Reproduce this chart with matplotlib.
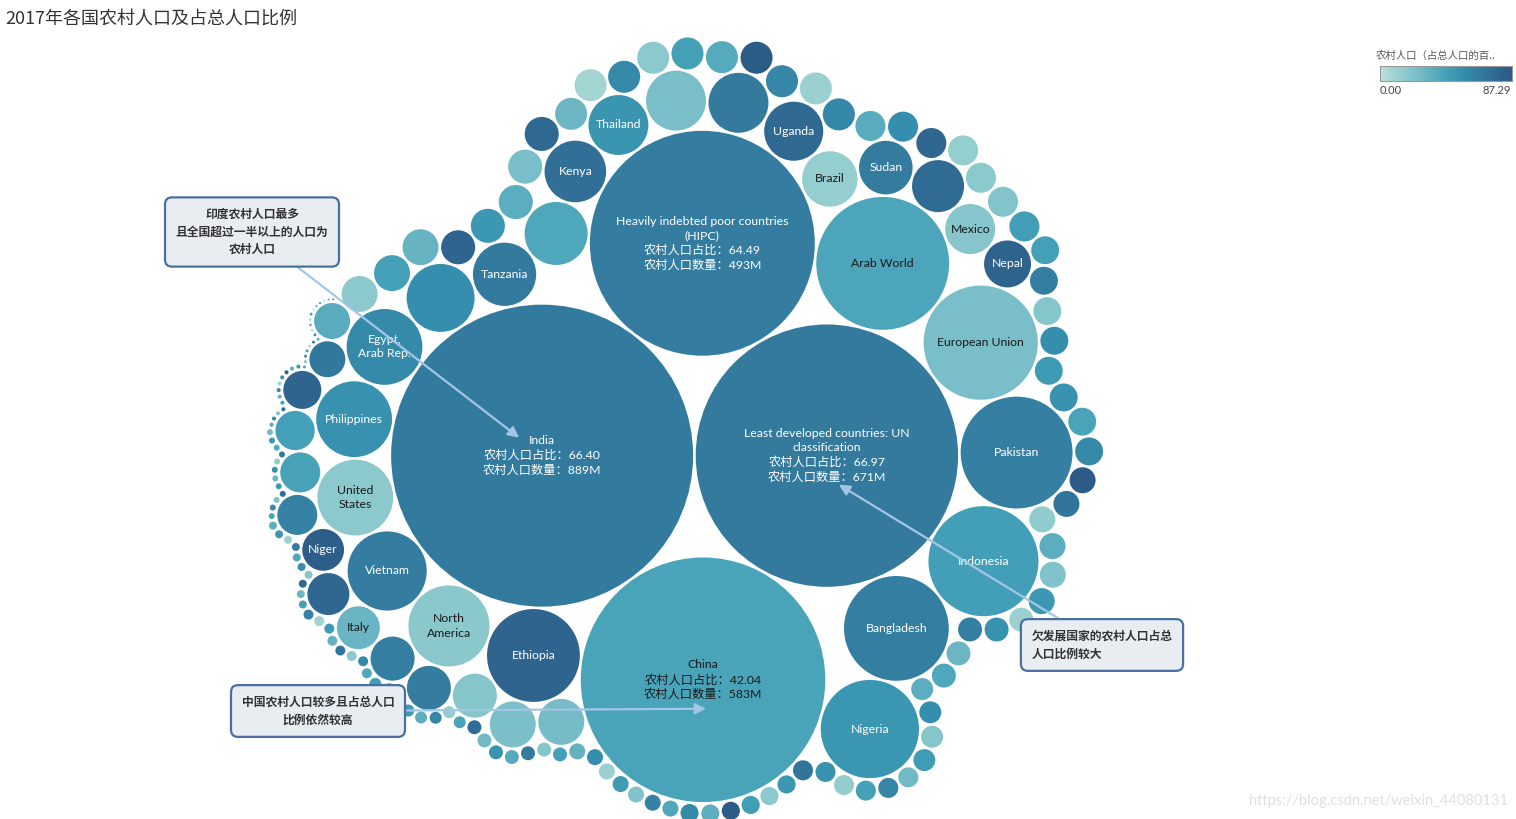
import numpy as np
import matplotlib
matplotlib.use('Agg')
import matplotlib.pyplot as plt
from matplotlib.patches import Circle
from matplotlib.collections import PatchCollection
from matplotlib.colors import LinearSegmentedColormap, Normalize

plt.rcParams['font.family'] = ['Lato', 'Noto Sans CJK SC', 'DejaVu Sans']
CJK = ['Noto Sans CJK SC', 'DejaVu Sans']

# ---- data (rural population in millions, rural share in %) ----
title = '2017年各国农村人口及占总人口比例'
legend_title = '农村人口（占总人口的百..'
pct_max = 87.29

names = ['India', 'Least developed countries: UN\nclassification', 'China',
         'Heavily indebted poor countries\n(HIPC)', 'Arab World', 'European Union',
         'Pakistan', 'Indonesia', 'Bangladesh', 'Nigeria', 'Ethiopia',
         'North\nAmerica', 'Vietnam', 'United\nStates', 'Philippines',
         'Egypt,\nArab Rep.', 'Tanzania', 'Kenya', 'Thailand', 'Uganda',
         'Brazil', 'Sudan', 'Mexico', 'Nepal', 'Italy', 'Niger']
rural_pop = [889, 671, 583, 493, 172, 127, 122, 118, 107, 94, 84,
             64, 61, 56, 56, 56, 39, 37, 35, 34, 30, 28, 24.4, 21.5, 18, 17]
rural_pct = [66.40, 66.97, 42.04, 64.49, 41.0, 25.0, 63.6, 45.3, 64.1, 50.5, 79.7,
             18.1, 64.8, 17.9, 53.1, 57.3, 66.8, 73.1, 51.3, 76.6, 13.7, 65.6,
             20.3, 80.7, 30.6, 83.6]

# unlabeled countries / groups
other_pop = [45, 38.7, 35, 35, 26.4, 20.6, 20.6, 18.9, 18.9, 18.9, 17.2, 15.6, 15.6, 15, 14.1,
             12.6, 12.6, 12.6, 12.6, 12.6, 11.3, 11.3, 11.3, 11.3, 11.3,
             10, 10, 10, 10, 10, 10, 10, 10, 10, 10,
             8.8, 8.8, 8.8, 8.8, 8.8, 8.8, 8.8,
             7.6, 7.6, 7.6, 7.6, 7.6, 7.6, 7.6, 7.6,
             6.6, 6.6, 6.6, 6.6, 6.6, 6.6,
             5.6, 5.6, 5.6, 5.6, 5.6,
             4.7, 4.7, 4.7, 4.7,
             3.9, 3.9, 3.9, 3.9, 3.9, 3.9,
             3.2, 3.2, 3.2, 3.2, 3.2, 3.2,
             2.5, 2.5, 2.5, 2.5, 2.5, 2.5, 2.5,
             1.9, 1.9, 1.9, 1.9, 1.9, 1.9, 1.9,
             1.4, 1.4, 1.4, 1.4, 1.4, 1.4, 1.4, 1.4,
             0.97, 0.97, 0.97, 0.97, 0.97, 0.97, 0.97, 0.97,
             0.62, 0.62, 0.62, 0.62, 0.62, 0.62, 0.62, 0.62, 0.62, 0.62,
             0.35, 0.35, 0.35, 0.35, 0.35, 0.35, 0.35, 0.35, 0.35, 0.35, 0.35, 0.35,
             0.16, 0.16, 0.16, 0.16, 0.16, 0.16, 0.16, 0.16, 0.16, 0.16, 0.16, 0.16,
             0.08, 0.08, 0.08, 0.08, 0.08, 0.08, 0.08, 0.08, 0.08, 0.08, 0.08, 0.08,
             0.04, 0.04, 0.04, 0.04, 0.04, 0.04]
other_pct = [55, 40, 25, 67, 76, 26, 24, 20, 65, 64, 78, 62, 43, 45, 80,
             68, 37, 18, 44, 32, 80, 50, 36, 25, 77,
             30, 9, 58, 18, 45, 38, 86, 60, 12, 59,
             37, 55, 78, 14, 18, 21, 46,
             45, 64, 20, 55, 48, 52, 42, 58,
             86, 70, 16, 36, 22, 50,
             12, 52, 64, 30, 40,
             36, 55, 20, 47,
             28, 60, 44, 15, 52, 70,
             50, 18, 46, 85, 35, 57,
             40, 62, 22, 48, 12, 55, 33,
             45, 20, 66, 38, 52, 28, 75,
             42, 15, 60, 35, 50, 80, 25, 46,
             40, 58, 18, 70, 33, 48, 10, 62,
             45, 30, 78, 20, 55, 40, 66, 12, 50, 35,
             42, 60, 22, 75, 48, 30, 55, 15, 68, 38, 50, 26,
             40, 58, 20, 72, 45, 33, 62, 10, 52, 80, 36, 48,
             44, 25, 65, 50, 5, 70, 38, 56, 0, 30, 0, 47,
             0, 42, 60, 0, 35, 52]

# ---- Tableau blue-teal palette ----
blue_teal = ["#bce4d8", "#aedcd5", "#a1d5d2", "#95cecf", "#89c8cc", "#7ec1ca", "#72bac6",
             "#66b2c2", "#59acbe", "#4ba5ba", "#419eb6", "#3b96b2", "#358ead", "#3586a7",
             "#347ea1", "#32779b", "#316f96", "#2f6790", "#2d608a", "#2c5985"]
cmap = LinearSegmentedColormap.from_list('blue_teal', blue_teal)
norm = Normalize(0, pct_max)

all_names = names + [''] * len(other_pop)
pop = np.array(rural_pop + other_pop, float)
pct = np.array(rural_pct + other_pct, float)
order = np.argsort(-pop, kind='stable')
all_names = [all_names[i] for i in order]
pop, pct = pop[order], pct[order]

# size scale: radius (px) proportional to sqrt(population)
scale = 151 / np.sqrt(889)
rad = scale * np.sqrt(pop)
gap = 1.3


# ---- spiral front-chain packing ----
# bubbles go clockwise round the chain; when the next spot is much further from
# the centre of the four biggest bubbles than the best free notch, the bubble takes that notch
def pack(r, max_skip=12, jump=1.4):
    n = len(r)
    x = np.zeros(n)
    y = np.zeros(n)

    def notch(ia, ib, rc):
        dx = x[ia] - x[ib]
        dy = y[ia] - y[ib]
        d2 = dx * dx + dy * dy
        a2 = (r[ib] + rc) ** 2
        b2 = (r[ia] + rc) ** 2
        t = (d2 + a2 - b2) / (2 * d2)
        h = a2 / d2 - t * t
        ok = h >= 0
        s = np.sqrt(np.where(ok, h, 0))
        return x[ib] + t * dx - s * dy, y[ib] + t * dy + s * dx, ok

    def free(cx, cy, i):
        cx = np.atleast_1d(cx)
        cy = np.atleast_1d(cy)
        d = (cx[:, None] - x[None, :i]) ** 2 + (cy[:, None] - y[None, :i]) ** 2
        lim = (r[None, :i] + r[i]) ** 2
        return ~(d < lim * (1 - 1e-9) - 1e-6).any(axis=1)

    x[0], x[1] = -r[0], r[1]
    x[2], y[2], _ = notch(1, 0, r[2])
    x[3], y[3], _ = notch(0, 1, r[3])
    chain = [0, 3, 1, 2]
    cur = 1
    w = r[:4] ** 2
    ox, oy = np.sum(w * x[:4]) / w.sum(), np.sum(w * y[:4]) / w.sum()
    for i in range(4, n):
        L = len(chain)
        ext = np.max(np.hypot(x[:i] - ox, y[:i] - oy) + r[:i])
        seq = None
        for m in range(1, min(max_skip, L - 1) + 1):
            cx, cy, ok = notch(chain[cur], chain[(cur + m) % L], r[i])
            if ok and free(cx, cy, i)[0]:
                seq = (cur, m, float(cx), float(cy))
                break
        best = None
        A = np.array(chain)
        for m in range(1, L):
            cx, cy, ok = notch(A, np.roll(A, -m), r[i])
            ok = ok & free(cx, cy, i)
            if ok.any():
                k = int(np.argmin(np.where(ok, (cx - ox) ** 2 + (cy - oy) ** 2, np.inf)))
                best = (k, m, cx[k], cy[k])
                break
        spot = best
        if seq is not None:
            ds = np.hypot(seq[2] - ox, seq[3] - oy)
            db = np.hypot(best[2] - ox, best[3] - oy)
            if ds <= ext + r[i] and ds <= jump * db:
                spot = seq
        k, m, x[i], y[i] = spot
        rot = chain[k:] + chain[:k]
        chain = [rot[0], i] + rot[m:]
        cur = 1
    return x, y


px, py = pack(rad + gap)
# centre the packed cluster on the canvas
cx0 = (np.min(px - rad) + np.max(px + rad)) / 2
cy0 = (np.min(py - rad) + np.max(py + rad)) / 2
px = px - cx0 + 685
py = py - cy0 + 430

W, H = 1516, 819
fig = plt.figure(figsize=(W / 100, H / 100), dpi=100)
ax = fig.add_axes([0, 0, 1, 1])
ax.set_xlim(0, W)
ax.set_ylim(H, 0)
ax.axis('off')

circles = [Circle((px[i], py[i]), rad[i]) for i in range(len(rad))]
coll = PatchCollection(circles, facecolor=cmap(norm(pct)), edgecolor='none')
ax.add_collection(coll)

pos = {}
for i, nm in enumerate(all_names):
    if not nm:
        continue
    pos[nm] = (px[i], py[i])
    txt = nm
    if pop[i] > 400:
        txt += f'\n农村人口占比：{pct[i]:.2f}\n农村人口数量：{pop[i]:.0f}M'
    col = '#1a1a1a' if pct[i] < 45 else 'white'
    ax.text(px[i], py[i], txt, ha='center', va='center', fontsize=8.8,
            color=col, linespacing=1.35)

# ---- annotations ----
box = dict(boxstyle='round,pad=0.9,rounding_size=0.6', fc='#e8edf2', ec='#4a6fa0', lw=1.6)
arrow = dict(arrowstyle='-|>', color='#a3c6e6', lw=1.6, mutation_scale=16, shrinkA=0, shrinkB=0)

ix, iy = pos['India']
ax.annotate('印度农村人口最多\n且全国超过一半以上的人口为\n农村人口', xy=(ix - 23, iy - 18),
            xytext=(252, 232), ha='center', va='center', fontsize=8.5, fontweight='bold',
            family=CJK, color='#333333', bbox=box, arrowprops=arrow, linespacing=1.45)
lx, ly = pos['Least developed countries: UN\nclassification']
ax.annotate('欠发展国家的农村人口占总\n人口比例较大', xy=(lx + 12, ly + 29),
            xytext=(1102, 645), ha='center', va='center', fontsize=8.5, fontweight='bold',
            family=CJK, color='#333333', bbox=box, arrowprops=arrow, linespacing=1.45,
            multialignment='left')
chx, chy = pos['China']
ax.annotate('中国农村人口较多且占总人口\n比例依然较高', xy=(chx + 3, chy + 29),
            xytext=(318, 711), ha='center', va='center', fontsize=8.5, fontweight='bold',
            family=CJK, color='#333333', bbox=box, arrowprops=arrow, linespacing=1.45)

# ---- title, legend, watermark ----
fig.text(5 / W, 1 - 20 / H, title, fontsize=13, color='#333333', va='center', family=CJK)
fig.text(1376 / W, 1 - 56 / H, legend_title, fontsize=7.5, color='#555555', va='center', family=CJK)
cax = fig.add_axes([1380 / W, 1 - 81 / H, 132 / W, 15 / H])
cax.imshow(np.linspace(0, 1, 256)[None, :], aspect='auto', cmap=cmap)
cax.set_xticks([])
cax.set_yticks([])
for s in cax.spines.values():
    s.set_color('#999999')
fig.text(1380 / W, 1 - 91 / H, '0.00', fontsize=8, color='#444444', va='center')
fig.text(1511 / W, 1 - 91 / H, f'{pct_max:.2f}', fontsize=8, color='#444444', va='center', ha='right')
fig.text(1508 / W, 1 - 801 / H, 'https://blog.csdn.net/weixin_44080131', fontsize=10.5,
         color='#e0e0e0', ha='right', va='center')

fig.savefig('out.png', dpi=100)
